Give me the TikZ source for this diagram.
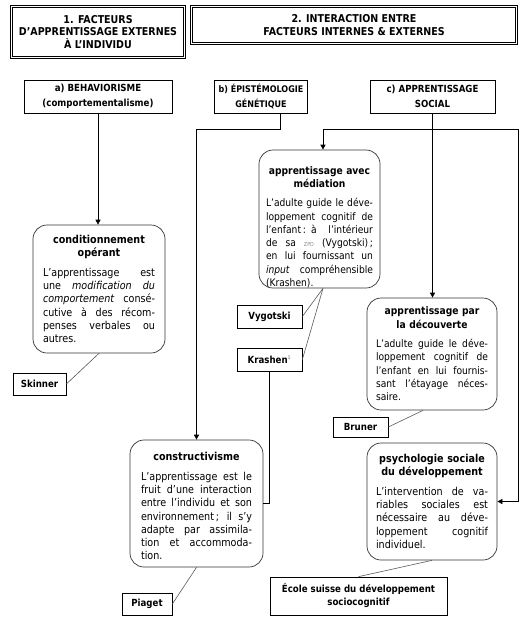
\documentclass[tikz,border=0pt]{standalone}
\usepackage{fontspec}
\setmainfont{DejaVu Sans}[FakeStretch=0.88]
\usetikzlibrary{arrows.meta,calc}
\newcommand{\jl}[1]{\leavevmode\hbox to \hsize{\spaceskip=0.3em plus 1fil\relax #1}}
\newcommand{\ct}[1]{\leavevmode\hbox to \hsize{\hss\bfseries #1\hss}}
\newcommand{\zpd}{{\fontsize{5.5}{5.5}\selectfont\color{black!45}ZPD}}
\begin{document}
\begin{tikzpicture}[x=1pt,y=-1pt,
  hdr/.style={draw, double, double distance=1.4pt, line width=0.7pt, inner sep=0pt, align=center, font=\bfseries\fontsize{10.8}{12.2}\selectfont},
  cat/.style={draw, line width=0.7pt, inner sep=0pt, align=center, font=\bfseries\fontsize{9.8}{14.5}\selectfont},
  rbox/.style={draw=black!80, line width=0.7pt, rounded corners=14pt, inner sep=0pt, align=left, font=\fontsize{10.4}{13.3}\selectfont},
  bigtext/.style={font=\fontsize{10.9}{13.3}\selectfont},
  lbl/.style={draw, line width=0.7pt, inner sep=0pt, align=center, font=\bfseries\fontsize{9.8}{13}\selectfont},
  arr/.style={line width=0.7pt, -{Triangle[length=5pt,width=5pt]}},
  conn/.style={line width=0.7pt},
  lnk/.style={draw=black!65, line width=0.6pt}]
\useasboundingbox (0,0) rectangle (528,624);

% headers
\node[hdr, minimum width=173pt, minimum height=51pt] (h1) at (98,32) {1. FACTEURS\\D’APPRENTISSAGE EXTERNES\\À L’INDIVIDU};
\node[hdr, minimum width=325pt, minimum height=37pt] (h2) at (354,25) {2. INTERACTION ENTRE\\FACTEURS INTERNES \& EXTERNES};

% categories
\node[cat, minimum width=148pt, minimum height=33pt] (a) at (98,96.5) {a) BEHAVIORISME\\(comportementalisme)};
\node[cat, minimum width=93pt, minimum height=33pt, font=\bfseries\fontsize{9.1}{14.5}\selectfont] (b) at (261,96.5) {b) ÉPISTÉMOLOGIE\\GÉNÉTIQUE};
\node[cat, minimum width=125pt, minimum height=33pt] (c) at (432.5,96.5) {c) APPRENTISSAGE\\SOCIAL};

% rounded boxes
\node[rbox, bigtext, minimum width=132pt, minimum height=128pt, text width=112pt] (cond) at (99,289) {%
\ct{conditionnement}\\ \ct{opérant}\\[6pt]
\jl{L’apprentissage est}\\
\jl{une \textit{modification du}}\\
\jl{\textit{comportement} consé-}\\
\jl{cutive à des récom-}\\
\jl{penses verbales ou}\\
autres.};

\node[rbox, minimum width=121pt, minimum height=138pt, text width=107pt] (med) at (319.5,219) {%
\ct{\rule{0pt}{24pt}apprentissage avec}\\ \ct{médiation}\\[6pt]
\jl{L’adulte guide le déve-}\\
\jl{loppement cognitif de}\\
\jl{l’enfant\,: à l’intérieur}\\
\jl{de sa \zpd{} (Vygotski)\,;}\\
\jl{en lui fournissant un}\\
\jl{\textit{input} compréhensible}\\
(Krashen).};

\node[rbox, minimum width=130pt, minimum height=112pt, text width=112pt] (dec) at (432,354) {%
\ct{apprentissage par}\\ \ct{la découverte}\\[6pt]
\jl{L’adulte guide le déve-}\\
\jl{loppement cognitif de}\\
\jl{l’enfant en lui fournis-}\\
\jl{sant l’étayage néces-}\\
saire.};

\node[rbox, bigtext, minimum width=133pt, minimum height=127pt, text width=111pt] (cons) at (196.5,503.5) {%
\ct{\rule{0pt}{14pt}constructivisme}\\[6pt]
\jl{L’apprentissage est le}\\
\jl{fruit d’une interaction}\\
\jl{entre l’individu et son}\\
\jl{environnement\,; il s’y}\\
\jl{adapte par assimila-}\\
\jl{tion et accommoda-}\\
tion.};

\node[rbox, bigtext, minimum width=130pt, minimum height=117pt, text width=112pt] (psy) at (432,501.5) {%
\ct{psychologie sociale}\\ \ct{du développement}\\[6pt]
\jl{L’intervention de va-}\\
\jl{riables sociales est}\\
\jl{nécessaire au déve-}\\
\jl{loppement cognitif}\\
individuel.};

% author labels
\node[lbl, minimum width=53pt, minimum height=22pt] (skin) at (39.5,384) {Skinner};
\node[lbl, minimum width=65pt, minimum height=23pt] (vyg) at (269.5,316.5) {Vygotski};
\node[lbl, minimum width=65pt, minimum height=23pt] (kra) at (269.5,359.5) {Krashen\textsuperscript{\color{black!40}\fontsize{5}{5}\selectfont 1}};
\node[lbl, minimum width=55pt, minimum height=20pt] (bru) at (360.5,427) {Bruner};
\node[lbl, minimum width=50pt, minimum height=22pt] (pia) at (147,604) {Piaget};
\node[lbl, minimum width=177pt, minimum height=38pt] (eco) at (358.5,596) {École suisse du développement\\sociocognitif};

% junction coordinates
\coordinate (bj) at (280,129);
\coordinate (cl) at (323,129);
\coordinate (cr) at (518,129);

% connectors
\draw[arr] (a.south) -- (a.south |- cond.north);
\draw[arr] (b.south -| bj) -- (bj) -| (cons.north);
\draw[arr] (c.south) -- (c.south |- dec.north);
\draw[arr] (cr) -- (cl) -- (cl |- med.north);
\draw[arr] (cr) |- (psy.east);
\draw[conn] (kra.south) |- (cons.east);

% author links
\draw[lnk] (skin.east) -- (cond.south);
\draw[lnk] (vyg.east) -- ($(med.south)+(3.5,0)$);
\draw[lnk] (kra.east) -- ($(med.south)+(3.5,0)$);
\draw[lnk] (bru.east) -- ($(dec.south)+(-9,0)$);
\draw[lnk] (pia.east) -- (cons.south);
\draw[lnk] (eco.north) -- (psy.south);
\end{tikzpicture}
\end{document}
